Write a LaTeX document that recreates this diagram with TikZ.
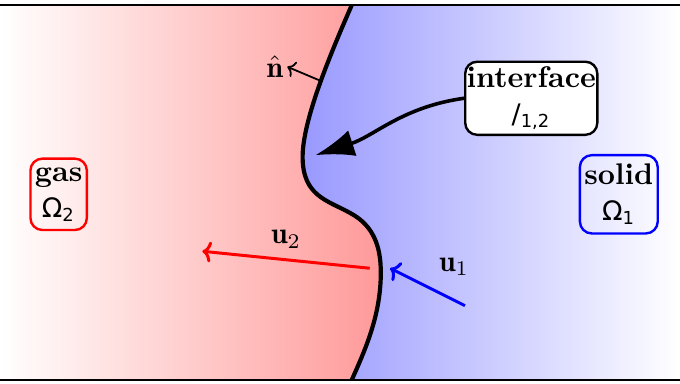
\documentclass[tikz,border=0pt]{standalone}
\usepackage{amsmath, amssymb}
\usepackage{fontspec}
\usepackage{tikz}
\usetikzlibrary{arrows.meta}
\newfontfamily\symfnt{DejaVu Sans}
\newcommand{\sublab}[2]{{\symfnt\small #1\textsubscript{#2}}}
\def\curva{(4.14,4.45) .. controls (3.9,3.9) and (3.56,3.1) .. (3.56,2.66)
    .. controls (3.56,2.2) and (3.85,2.15) .. (4.12,2.0)
    .. controls (4.4,1.85) and (4.48,1.6) .. (4.48,1.3)
    .. controls (4.48,0.8) and (4.3,0.4) .. (4.14,0.04)}

\begin{document}
\begin{tikzpicture}[->, >={To[length=3pt, width=7pt]}, thick]
        \useasboundingbox (0,0) rectangle (8,4.506);
        % Regiones
        \shade[left color=white, right color=red!40] (0,0.04) -- (0,4.45) -- \curva -- cycle;
        \shade[left color=blue!40, right color=white] \curva -- (8,0.04) -- (8,4.45) -- cycle;
        \draw[-, line width=0.7pt] (0,4.45) -- (8,4.45);
        \draw[-, line width=0.7pt] (0,0.04) -- (8,0.04);
        \draw[-, line width=1.4pt] \curva;

        % Nodos
        \node[draw=red, rounded corners, align=center, inner xsep=1.5pt, inner ysep=3pt] (gas) at (0.69,2.22) {\textbf{gas}\\\sublab{Ω}{2}};
        \node[draw=blue, rounded corners, align=center, inner xsep=1.5pt, inner ysep=3pt] (solid) at (7.28,2.22) {\textbf{solid}\\\sublab{Ω}{1}};
        \node[draw, fill=white, rounded corners, align=center, inner sep=0.5pt, minimum height=0.86cm] (interface) at (6.25,3.35) {\textbf{interface}\\\sublab{/}{1,2}};
        \coordinate (punta) at (3.71,2.68);
        \coordinate (npie) at (3.76,3.56);
        \coordinate (npunta) at (3.38,3.72);
        \coordinate (uApie) at (4.35,1.35);
        \coordinate (uApunta) at (2.38,1.55);
        \coordinate (uBpie) at (5.47,0.91);
        \coordinate (uBpunta) at (4.59,1.35);
        \node[left, inner sep=1pt] (nlab) at (npunta) {$\hat{\mathbf n}$};

        % Flechas
        \draw[-{Latex[length=13pt, width=9pt]}, line width=1.2pt] (interface.west) to[out=188, in=18] (punta);
        \draw[-{To[length=2.5pt, width=5.5pt]}, semithick] (npie) -- (npunta);
        \draw[red, line width=1pt] (uApie) -- node[above, black] (uAlab) {$\mathbf u_2$} (uApunta);
        \draw[blue, line width=1pt] (uBpie) -- node[above right, black] (uBlab) {$\mathbf u_1$} (uBpunta);
    \end{tikzpicture}
\end{document}
